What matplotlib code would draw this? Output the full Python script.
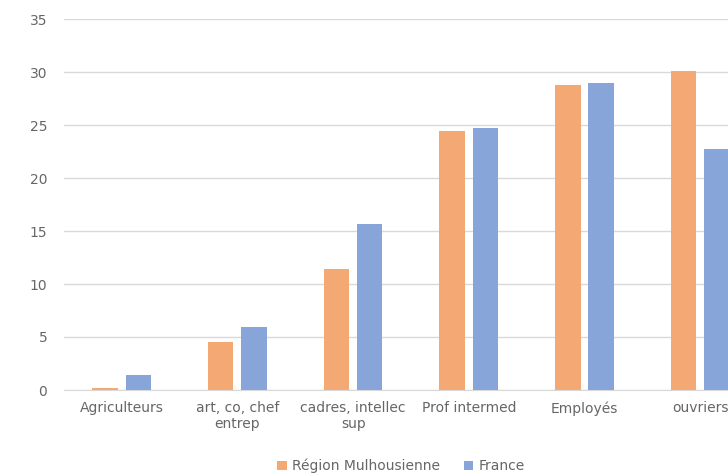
import numpy as np
import matplotlib.pyplot as plt

categories = ["Agriculteurs", "art, co, chef\nentrep", "cadres, intellec\nsup",
              "Prof intermed", "Employés", "ouvriers"]
region = [0.2, 4.5, 11.4, 24.4, 28.8, 30.1]
france = [1.4, 5.9, 15.7, 24.7, 29.0, 22.7]
series_names = ["Région Mulhousienne", "France"]

orange = "#F4A874"
blue = "#87A5D9"
text_col = "#666666"

fig = plt.figure(figsize=(7.28, 4.74), dpi=100)
# the chart is cut at the right edge, as in the original screenshot
ax = fig.add_axes([64 / 728, 84 / 474, 1 - 64 / 728, 371 / 474])

x = np.arange(len(categories))
w = 0.22
ax.bar(x - 0.145, region, w, color=orange, label=series_names[0], zorder=3)
ax.bar(x + 0.142, france, w, color=blue, label=series_names[1], zorder=3)

ax.set_xlim(-0.5, 5.24)
ax.set_ylim(0, 35)
ax.set_yticks(range(0, 36, 5))
ax.set_xticks(x)
ax.set_xticklabels(categories)
ax.yaxis.grid(True, color="#D9D9D9", linewidth=1, zorder=0)
for s in ["top", "right", "left"]:
    ax.spines[s].set_visible(False)
ax.spines["bottom"].set_color("#D9D9D9")
ax.tick_params(axis="both", length=0, colors=text_col, labelsize=10)
ax.tick_params(axis="y", pad=12)
ax.tick_params(axis="x", pad=8)

fig.legend(loc="center", bbox_to_anchor=(401 / 728, 8 / 474), ncol=2, frameon=False,
           fontsize=10, labelcolor=text_col, handlelength=0.7, handleheight=0.7,
           handletextpad=0.35, columnspacing=1.7)

fig.savefig("out.png", dpi=100)
